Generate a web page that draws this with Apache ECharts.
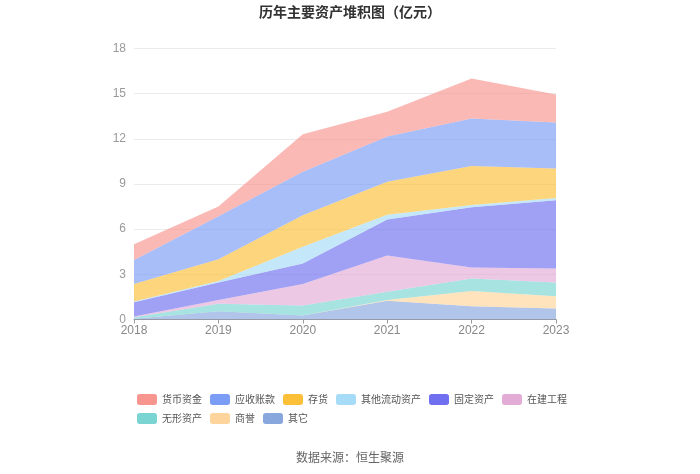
<!DOCTYPE html>
<html><head><meta charset="utf-8">
<script src="https://cdn.jsdelivr.net/npm/echarts@6/dist/echarts.min.js"></script>
<style>html,body{margin:0;padding:0;background:#fff}#c{width:700px;height:474px}</style>
</head><body><div id="c"></div>
<script>
var years = ['2018','2019','2020','2021','2022','2023'];
var yTicks = [0,3,6,9,12,15,18];
var legendOrder = ['货币资金','应收账款','存货','其他流动资产','固定资产','在建工程','无形资产','商誉','其它'];
// stacked bottom to top
var qita    = [0.05, 0.55, 0.27, 1.25, 0.88, 0.73];
var shangyu = [0.00, 0.00, 0.00, 0.05, 1.02, 0.82];
var wuxing  = [0.10, 0.50, 0.66, 0.55, 0.82, 0.91];
var zaijian = [0.05, 0.25, 1.42, 2.40, 0.73, 0.93];
var guding  = [0.95, 1.15, 1.37, 2.40, 4.00, 4.53];
var qtliud  = [0.05, 0.10, 1.11, 0.30, 0.15, 0.15];
var cunhuo  = [1.15, 1.45, 2.10, 2.20, 2.60, 1.96];
var yingshou= [1.60, 2.85, 2.88, 3.00, 3.15, 3.05];
var huobi   = [1.05, 0.65, 2.50, 1.65, 2.65, 1.86];

var seriesDefs = [
  ['其它', qita, '#87a7dd'],
  ['商誉', shangyu, '#fdd49b'],
  ['无形资产', wuxing, '#79d4d2'],
  ['在建工程', zaijian, '#e2acd7'],
  ['固定资产', guding, '#6f6ff0'],
  ['其他流动资产', qtliud, '#a6dcf8'],
  ['存货', cunhuo, '#fcbf38'],
  ['应收账款', yingshou, '#7b9df6'],
  ['货币资金', huobi, '#f8958f']
];
var chart = echarts.init(document.getElementById('c'));
chart.setOption({
  animation:false,
  title:[{text:'历年主要资产堆积图（亿元）',left:'center',top:0,textStyle:{fontSize:14,fontWeight:'bold',color:'#333',fontFamily:'Noto Sans CJK SC'}},
         {text:'数据来源：恒生聚源',left:'center',top:446,textStyle:{fontSize:12,fontWeight:'normal',color:'#666',fontFamily:'Noto Sans CJK SC'}}],
  legend:{data:legendOrder,left:132,top:389,width:436,itemWidth:20,itemHeight:11,itemGap:8,icon:'roundRect',
          textStyle:{fontSize:10,color:'#555',fontFamily:'Noto Sans CJK SC'}},
  grid:{left:134,right:144,top:48.5,bottom:154.5},
  xAxis:{type:'category',data:years,boundaryGap:false,
         axisLine:{lineStyle:{color:'#999'}},axisTick:{show:true,length:4,lineStyle:{color:'#999'}},
         axisLabel:{color:'#888',fontSize:12,margin:5}},
  yAxis:{type:'value',min:0,max:18,interval:3,
         axisLine:{show:false},axisTick:{show:false},
         axisLabel:{color:'#999',fontSize:12,margin:8},
         splitLine:{lineStyle:{color:'#ebebeb'}}},
  series:seriesDefs.map(function(d){
    return {name:d[0],type:'line',stack:'total',data:d[1],symbol:'none',smooth:false,
      lineStyle:{width:0},itemStyle:{color:d[2]},areaStyle:{color:d[2],opacity:0.66}};
  })
});
</script></body></html>
